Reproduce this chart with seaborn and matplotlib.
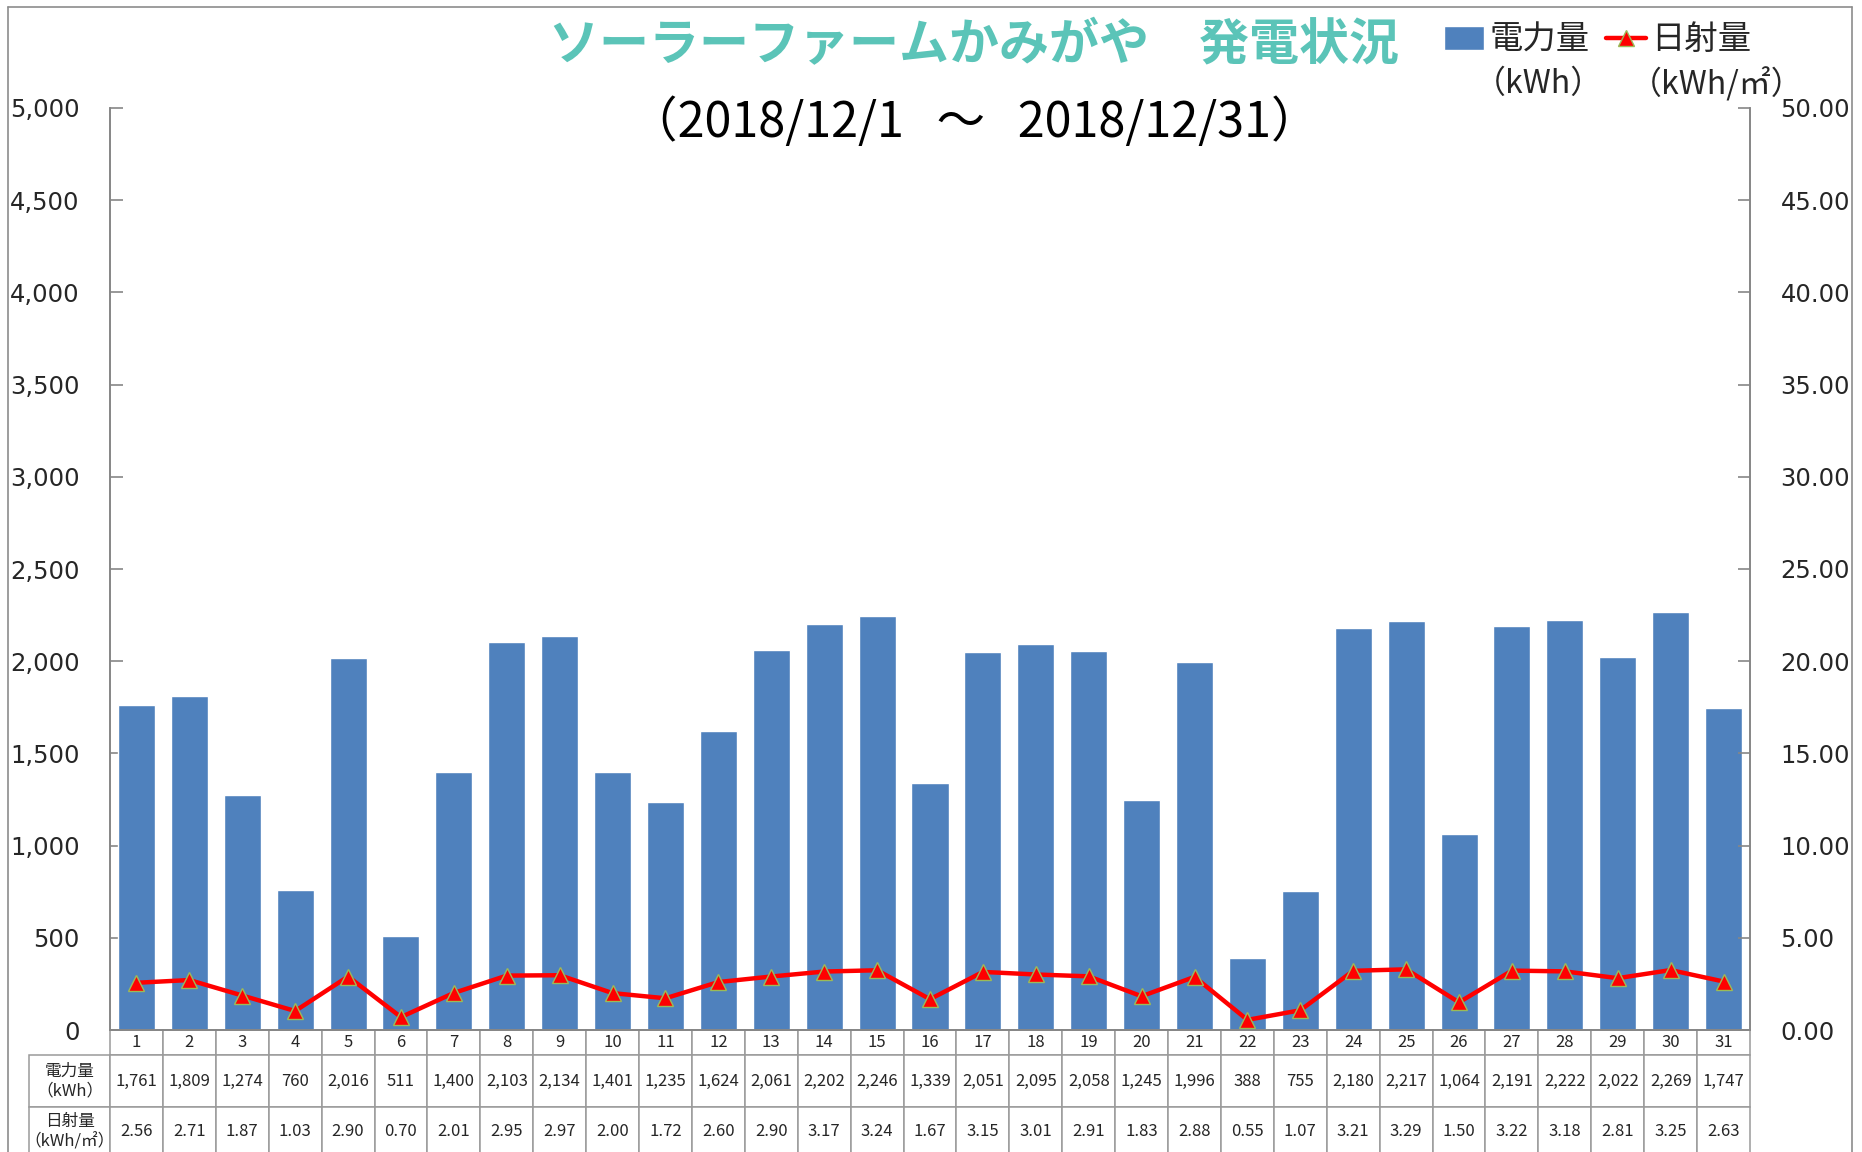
import numpy as np
import pandas as pd
import seaborn as sns
import matplotlib.pyplot as plt
from matplotlib.lines import Line2D
from matplotlib.patches import Patch
from matplotlib.ticker import FuncFormatter, MultipleLocator

# data (2018/12)
days = list(range(1, 32))
kwh = [1761, 1809, 1274, 760, 2016, 511, 1400, 2103, 2134, 1401, 1235,
       1624, 2061, 2202, 2246, 1339, 2051, 2095, 2058, 1245, 1996, 388,
       755, 2180, 2217, 1064, 2191, 2222, 2022, 2269, 1747]
rad = [2.56, 2.71, 1.87, 1.03, 2.90, 0.70, 2.01, 2.95, 2.97, 2.00, 1.72,
       2.60, 2.90, 3.17, 3.24, 1.67, 3.15, 3.01, 2.91, 1.83, 2.88, 0.55,
       1.07, 3.21, 3.29, 1.50, 3.22, 3.18, 2.81, 3.25, 2.63]

title = 'ソーラーファームかみがや\u3000発電状況'
subtitle = '（2018/12/1   ～   2018/12/31）'

df = pd.DataFrame({'day': days, 'kwh': kwh, 'rad': rad})

sns.set_style('white')
plt.rcParams['font.family'] = ['Noto Sans CJK JP', 'DejaVu Sans']

W, H = 1862, 1152
fig = plt.figure(figsize=(W / 100, H / 100), dpi=100)
ax = fig.add_axes([110 / W, 1 - 1030 / H, 1640 / W, 922 / H])

# bars
sns.barplot(data=df, x='day', y='kwh', color='#4F81BD', width=0.7,
            saturation=1, ax=ax)
ax.set_xlim(-0.5, 30.5)
ax.set_ylim(0, 5000)
ax.yaxis.set_major_locator(MultipleLocator(500))
ax.yaxis.set_major_formatter(FuncFormatter(lambda v, p: f'{int(v):,}'))
ax.set_xticks([])
ax.set_xlabel('')
ax.set_ylabel('')

# radiation line on secondary axis
ax2 = ax.twinx()
sns.lineplot(x=np.arange(len(days)), y=rad, color='#FF0000', lw=3.2,
             marker='^', markersize=11, markerfacecolor='#FF0000',
             markeredgecolor='#9BBB59', markeredgewidth=1, ax=ax2)
ax2.set_ylim(0, 50)
ax2.yaxis.set_major_locator(MultipleLocator(5))
ax2.yaxis.set_major_formatter(FuncFormatter(lambda v, p: f'{v:.2f}'))

for a in (ax, ax2):
    for s in a.spines.values():
        s.set_color('#868686')
        s.set_linewidth(1.2)
    a.spines['top'].set_visible(False)
ax.tick_params(axis='y', direction='in', length=9, width=1.2, color='#868686',
               pad=22, labelsize=17.5, labelfontfamily='DejaVu Sans')
ax2.tick_params(axis='y', direction='in', length=9, width=1.2, color='#868686',
                pad=22, labelsize=17.5, labelfontfamily='DejaVu Sans')

# data table underneath
hdr_w = 81
cell_w = 1640 / 31
cells = [[''] + [str(d) for d in days],
         ['電力量\n（kWh）'] + [f'{v:,}' for v in kwh],
         ['日射量\n（kWh/㎡）'] + [f'{v:.2f}' for v in rad]]
row_h = [25, 52, 50]
tot_h = sum(row_h)
tbl = ax.table(cellText=cells, colWidths=[hdr_w] + [cell_w] * 31,
               cellLoc='center',
               bbox=[-hdr_w / 1640, -tot_h / 922, (1640 + hdr_w) / 1640, tot_h / 922])
tbl.auto_set_font_size(False)
for (r, c), cell in tbl.get_celld().items():
    cell.set_height(row_h[r])
    cell.set_edgecolor('#9A9A9A')
    cell.set_linewidth(1.1)
    cell.get_text().set_fontsize(12)
    if c == 0:
        cell.get_text().set_fontsize(12)
        cell._loc = 'left'
        cell.PAD = 0.05
        if r == 0:
            cell.visible_edges = ''

# titles
fig.text(0.523, 1 - 46 / H, title, ha='center', va='center', fontsize=36,
         fontweight='bold', color='#5BC4B8')
fig.text(0.523, 1 - 123 / H, subtitle, ha='center', va='center', fontsize=35,
         color='black')

# legend
handles = [Patch(facecolor='#4F81BD'),
           Line2D([0], [0], color='#FF0000', lw=3.2, marker='^', markersize=11,
                  markerfacecolor='#FF0000', markeredgecolor='#9BBB59')]
fig.legend(handles, ['電力量', '日射量'], loc='center left',
           bbox_to_anchor=(1444 / W, 1 - 40 / H), ncol=2, frameon=False,
           fontsize=24, handlelength=1.2, handletextpad=0.15, columnspacing=0.5,
           borderpad=0, borderaxespad=0)
fig.text(1474 / W, 1 - 84 / H, '（kWh）', ha='left', va='center', fontsize=23)
fig.text(1630 / W, 1 - 84 / H, '（kWh/㎡）', ha='left', va='center', fontsize=23)

# outer frame
for xs, ys in [((8, 8), (7, H)), ((8, 1852), (7, 7)), ((1852, 1852), (7, H))]:
    fig.add_artist(Line2D([x / W for x in xs], [1 - y / H for y in ys],
                          transform=fig.transFigure, color='#8C8C8C', lw=1.2))

fig.savefig('out.png', dpi=100)
